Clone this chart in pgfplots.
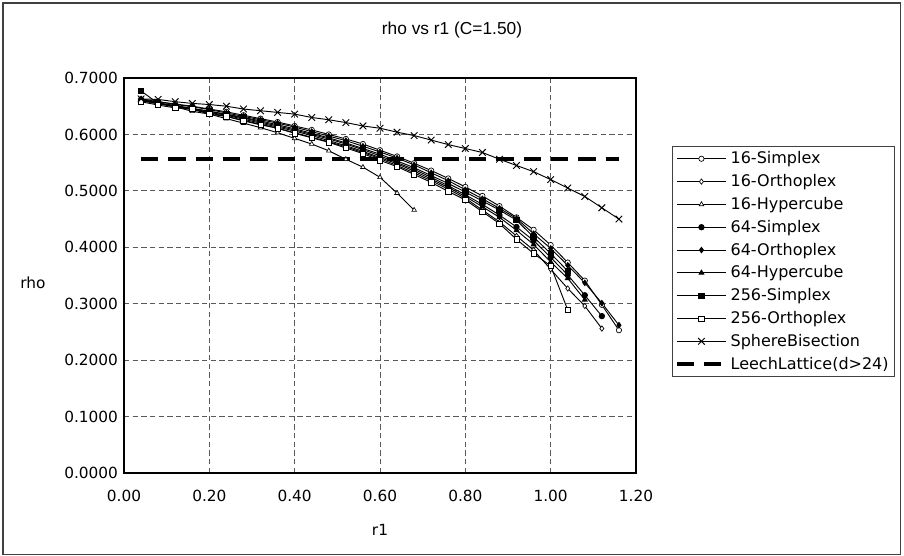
\documentclass[border=0pt]{standalone}
\usepackage{fontspec}
\setmainfont{DejaVu Sans}
\newfontfamily\titlefont{Liberation Sans}
\usepackage{pgfplots}
\pgfplotsset{compat=1.18}

\begin{document}
\begin{tikzpicture}[x=0.75pt,y=0.75pt]
\useasboundingbox (0,0) rectangle (904,556);
\fill[white] (0,0) rectangle (904,556);
\draw[line width=0.8pt, black!75] (3,1.5) rectangle (900.5,553);
\node[font=\titlefont\fontsize{13}{15}\selectfont] at (452,526) {rho vs r1 (C=1.50)};
\node[font=\fontsize{11.5}{13}\selectfont] at (33,273) {rho};
\node[font=\fontsize{11.5}{13}\selectfont] at (380,26) {r1};
\begin{axis}[
    at={(93pt,62.25pt)}, anchor=south west,
    scale only axis, width=384pt, height=296.25pt,
    xmin=0, xmax=1.2, ymin=0, ymax=0.7,
    xtick={0,0.2,0.4,0.6,0.8,1.0,1.2},
    ytick={0,0.1,0.2,0.3,0.4,0.5,0.6,0.7},
    major tick length=0pt,
    tick label style={font=\fontsize{11.5}{13}\selectfont},
    xticklabel style={/pgf/number format/fixed, /pgf/number format/fixed zerofill,
        /pgf/number format/precision=2, /pgf/number format/assume math mode=true, yshift=-9pt},
    yticklabel style={/pgf/number format/fixed, /pgf/number format/fixed zerofill,
        /pgf/number format/precision=4, /pgf/number format/assume math mode=true, xshift=-1pt},
    grid=major,
    major grid style={black!65, line width=0.6pt, dash pattern=on 4pt off 2.5pt},
    axis line style={black, line width=0.9pt},
    every axis plot/.append style={black, line width=0.7pt, mark size=2pt},
    legend image code/.code={\draw[mark repeat=2,mark phase=2,#1] plot coordinates {(0pt,0pt) (18.5pt,0pt) (37pt,0pt)};},
    legend cell align=left,
    legend style={at={(rel axis cs:1.070,0.828)}, anchor=north west,
        draw=black!75, line width=0.6pt, font=\fontsize{12}{14}\selectfont,
        row sep=2.5pt, inner sep=2pt},
]
% 16-Simplex
\addplot[mark=*, mark options={solid, fill=white, line width=0.5pt}] coordinates {
 (0.04,0.660) (0.08,0.658) (0.12,0.654) (0.16,0.650) (0.20,0.645) (0.24,0.640)
 (0.28,0.634) (0.32,0.628) (0.36,0.622) (0.40,0.615) (0.44,0.608) (0.48,0.600)
 (0.52,0.592) (0.56,0.583) (0.60,0.572) (0.64,0.561) (0.68,0.549) (0.72,0.536)
 (0.76,0.522) (0.80,0.507) (0.84,0.491) (0.88,0.473) (0.92,0.453) (0.96,0.431)
 (1.00,0.404) (1.04,0.373) (1.08,0.341) (1.12,0.298) (1.16,0.253)
};
% 16-Orthoplex
\addplot[mark=diamond*, mark options={solid, fill=white, line width=0.5pt}] coordinates {
 (0.04,0.660) (0.08,0.654) (0.12,0.649) (0.16,0.644) (0.20,0.638) (0.24,0.632)
 (0.28,0.625) (0.32,0.618) (0.36,0.611) (0.40,0.603) (0.44,0.595) (0.48,0.587)
 (0.52,0.578) (0.56,0.568) (0.60,0.557) (0.64,0.545) (0.68,0.532) (0.72,0.518)
 (0.76,0.503) (0.80,0.487) (0.84,0.466) (0.88,0.445) (0.92,0.420) (0.96,0.395)
 (1.00,0.361) (1.04,0.327) (1.08,0.296) (1.12,0.256)
};
% 16-Hypercube
\addplot[mark=triangle*, mark options={solid, fill=white, line width=0.5pt}] coordinates {
 (0.04,0.660) (0.08,0.655) (0.12,0.649) (0.16,0.641) (0.20,0.636) (0.24,0.628)
 (0.28,0.620) (0.32,0.612) (0.36,0.603) (0.40,0.593) (0.44,0.583) (0.48,0.571)
 (0.52,0.556) (0.56,0.542) (0.60,0.524) (0.64,0.496) (0.68,0.466)
};
% 64-Simplex
\addplot[mark=*, mark options={solid, fill=black}] coordinates {
 (0.04,0.662) (0.08,0.656) (0.12,0.651) (0.16,0.646) (0.20,0.641) (0.24,0.635)
 (0.28,0.629) (0.32,0.622) (0.36,0.615) (0.40,0.608) (0.44,0.600) (0.48,0.592)
 (0.52,0.583) (0.56,0.573) (0.60,0.562) (0.64,0.550) (0.68,0.538) (0.72,0.524)
 (0.76,0.509) (0.80,0.493) (0.84,0.476) (0.88,0.457) (0.92,0.436) (0.96,0.412)
 (1.00,0.382) (1.04,0.351) (1.08,0.315) (1.12,0.278)
};
% 64-Orthoplex
\addplot[mark=diamond*, mark options={solid, fill=black}] coordinates {
 (0.04,0.663) (0.08,0.658) (0.12,0.653) (0.16,0.649) (0.20,0.644) (0.24,0.638)
 (0.28,0.632) (0.32,0.626) (0.36,0.620) (0.40,0.613) (0.44,0.605) (0.48,0.597)
 (0.52,0.589) (0.56,0.579) (0.60,0.569) (0.64,0.558) (0.68,0.546) (0.72,0.532)
 (0.76,0.518) (0.80,0.502) (0.84,0.486) (0.88,0.469) (0.92,0.451) (0.96,0.424)
 (1.00,0.398) (1.04,0.368) (1.08,0.337) (1.12,0.301) (1.16,0.262)
};
% 64-Hypercube
\addplot[mark=triangle*, mark options={solid, fill=black}] coordinates {
 (0.04,0.661) (0.08,0.655) (0.12,0.650) (0.16,0.645) (0.20,0.639) (0.24,0.634)
 (0.28,0.627) (0.32,0.620) (0.36,0.613) (0.40,0.606) (0.44,0.598) (0.48,0.589)
 (0.52,0.580) (0.56,0.570) (0.60,0.559) (0.64,0.548) (0.68,0.535) (0.72,0.521)
 (0.76,0.506) (0.80,0.490) (0.84,0.472) (0.88,0.453) (0.92,0.430) (0.96,0.405)
 (1.00,0.374) (1.04,0.345) (1.08,0.307)
};
% 256-Simplex
\addplot[mark=square*, mark options={solid, fill=black}] coordinates {
 (0.04,0.677) (0.08,0.655) (0.12,0.651) (0.16,0.646) (0.20,0.641) (0.24,0.636)
 (0.28,0.630) (0.32,0.624) (0.36,0.617) (0.40,0.610) (0.44,0.602) (0.48,0.594)
 (0.52,0.585) (0.56,0.575) (0.60,0.565) (0.64,0.553) (0.68,0.541) (0.72,0.527)
 (0.76,0.513) (0.80,0.498) (0.84,0.482) (0.88,0.466) (0.92,0.448) (0.96,0.418)
 (1.00,0.389) (1.04,0.358)
};
% 256-Orthoplex
\addplot[mark=square*, mark options={solid, fill=white, line width=0.5pt}] coordinates {
 (0.04,0.658) (0.08,0.652) (0.12,0.647) (0.16,0.645) (0.20,0.636) (0.24,0.632)
 (0.28,0.624) (0.32,0.617) (0.36,0.611) (0.40,0.602) (0.44,0.594) (0.48,0.586)
 (0.52,0.576) (0.56,0.566) (0.60,0.554) (0.64,0.543) (0.68,0.529) (0.72,0.515)
 (0.76,0.499) (0.80,0.484) (0.84,0.463) (0.88,0.442) (0.92,0.414) (0.96,0.389)
 (1.00,0.367) (1.04,0.289)
};
% SphereBisection
\addplot[mark=x, mark size=3.5pt, mark options={solid, line width=0.7pt}] coordinates {
 (0.04,0.663) (0.08,0.662) (0.12,0.658) (0.16,0.655) (0.20,0.653) (0.24,0.650)
 (0.28,0.645) (0.32,0.642) (0.36,0.639) (0.40,0.636) (0.44,0.630) (0.48,0.626)
 (0.52,0.621) (0.56,0.615) (0.60,0.611) (0.64,0.604) (0.68,0.598) (0.72,0.590)
 (0.76,0.582) (0.80,0.575) (0.84,0.568) (0.88,0.556) (0.92,0.545) (0.96,0.534)
 (1.00,0.520) (1.04,0.505) (1.08,0.490) (1.12,0.470) (1.16,0.450)
};
% LeechLattice(d>24)
\addplot[no marks, line width=2.8pt, dash pattern=on 13pt off 7.5pt] coordinates {
 (0.04,0.556) (1.16,0.556)
};
\legend{16-Simplex, 16-Orthoplex, 16-Hypercube, 64-Simplex, 64-Orthoplex,
  64-Hypercube, 256-Simplex, 256-Orthoplex, SphereBisection, LeechLattice(d>24)}
\end{axis}
\end{tikzpicture}
\end{document}
